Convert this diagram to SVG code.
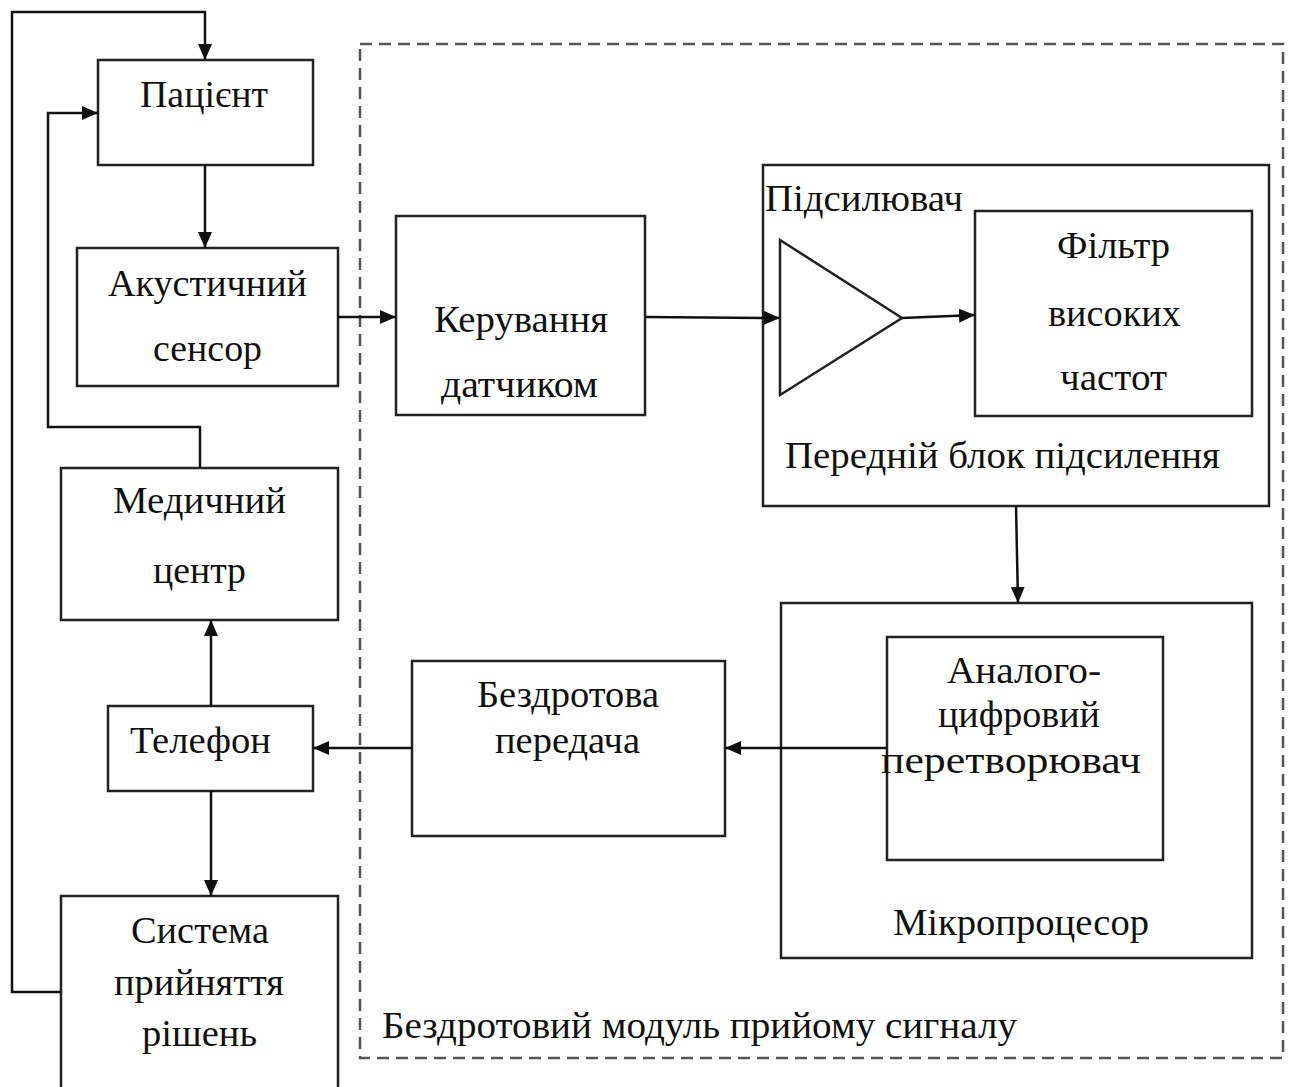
<svg xmlns="http://www.w3.org/2000/svg" width="1292" height="1087" viewBox="0 0 1292 1087">
<style>
.box{fill:none;stroke:#222;stroke-width:2.5}
.ln{fill:none;stroke:#111;stroke-width:2.5}
.dash{fill:none;stroke:#555;stroke-width:2.5;stroke-dasharray:12 7}
text{font-family:"Liberation Serif","Times New Roman",serif;font-size:38px;fill:#111}
</style>
<defs>
<marker id="ah" markerUnits="userSpaceOnUse" markerWidth="18" markerHeight="14" refX="16" refY="7" orient="auto">
<path d="M0,0 L16,7 L0,14 Z" fill="#111"/>
</marker>
</defs>
<rect width="1292" height="1087" fill="#fff"/>
<g id="module">
<rect class="dash" x="360" y="44" width="923" height="1014"/>
<text x="382" y="1038" textLength="635" lengthAdjust="spacingAndGlyphs">Бездротовий модуль прийому сигналу</text>
</g>
<g id="patient">
<rect class="box" x="98" y="60" width="215" height="105"/>
<text x="140" y="107" textLength="128" lengthAdjust="spacingAndGlyphs">Пацієнт</text>
</g>
<g id="sensor">
<rect class="box" x="77" y="248" width="261" height="138"/>
<text x="108" y="296" textLength="199" lengthAdjust="spacingAndGlyphs">Акустичний</text>
<text x="153" y="361" textLength="109" lengthAdjust="spacingAndGlyphs">сенсор</text>
</g>
<g id="control">
<rect class="box" x="396" y="216" width="249" height="199"/>
<text x="434" y="332" textLength="174" lengthAdjust="spacingAndGlyphs">Керування</text>
<text x="441" y="397" textLength="157" lengthAdjust="spacingAndGlyphs">датчиком</text>
</g>
<g id="frontend">
<rect class="box" x="763" y="165" width="506" height="341"/>
<text x="765" y="211" textLength="198" lengthAdjust="spacingAndGlyphs">Підсилювач</text>
<text x="785" y="468" textLength="435" lengthAdjust="spacingAndGlyphs">Передній блок підсилення</text>
</g>
<g id="amplifier">
<polygon class="box" points="780,240 780,395 902,318"/>
</g>
<g id="filter">
<rect class="box" x="975" y="211" width="277" height="205"/>
<text x="1057" y="258" textLength="113" lengthAdjust="spacingAndGlyphs">Фільтр</text>
<text x="1048" y="326" textLength="133" lengthAdjust="spacingAndGlyphs">високих</text>
<text x="1060" y="390" textLength="107" lengthAdjust="spacingAndGlyphs">частот</text>
</g>
<g id="microprocessor">
<rect class="box" x="781" y="603" width="471" height="355"/>
<text x="893" y="935" textLength="256" lengthAdjust="spacingAndGlyphs">Мікропроцесор</text>
</g>
<g id="adc">
<rect class="box" x="887" y="637" width="276" height="223"/>
<text x="947" y="683" textLength="154" lengthAdjust="spacingAndGlyphs">Аналого-</text>
<text x="1019" y="727" text-anchor="middle">цифровий</text>
<text x="881" y="773" textLength="260" lengthAdjust="spacingAndGlyphs">перетворювач</text>
</g>
<g id="wireless">
<rect class="box" x="412" y="661" width="313" height="175"/>
<text x="477" y="707" textLength="182" lengthAdjust="spacingAndGlyphs">Бездротова</text>
<text x="495" y="753" textLength="145" lengthAdjust="spacingAndGlyphs">передача</text>
</g>
<g id="phone">
<rect class="box" x="108" y="706" width="205" height="85"/>
<text x="130" y="753" textLength="141" lengthAdjust="spacingAndGlyphs">Телефон</text>
</g>
<g id="medcenter">
<rect class="box" x="61" y="468" width="277" height="152"/>
<text x="113" y="513" textLength="173" lengthAdjust="spacingAndGlyphs">Медичний</text>
<text x="153" y="583" textLength="93" lengthAdjust="spacingAndGlyphs">центр</text>
</g>
<g id="decision">
<rect class="box" x="61" y="896" width="277" height="200"/>
<text x="131" y="943" textLength="138" lengthAdjust="spacingAndGlyphs">Система</text>
<text x="114" y="995" textLength="170" lengthAdjust="spacingAndGlyphs">прийняття</text>
<text x="142" y="1046" textLength="115" lengthAdjust="spacingAndGlyphs">рішень</text>
</g>
<g id="connectors">
<path class="ln" d="M205,165 L205,248" marker-end="url(#ah)"/>
<path class="ln" d="M338,317 L396,317" marker-end="url(#ah)"/>
<path class="ln" d="M645,317 L780,318" marker-end="url(#ah)"/>
<path class="ln" d="M902,318 L975,315" marker-end="url(#ah)"/>
<path class="ln" d="M1016,506 L1018,603" marker-end="url(#ah)"/>
<path class="ln" d="M887,748 L725,748" marker-end="url(#ah)"/>
<path class="ln" d="M412,748 L313,748" marker-end="url(#ah)"/>
<path class="ln" d="M211,706 L211,620" marker-end="url(#ah)"/>
<path class="ln" d="M211,791 L211,896" marker-end="url(#ah)"/>
<path class="ln" d="M200,468 L200,427 L48,427 L48,113 L98,113" marker-end="url(#ah)"/>
<path class="ln" d="M61,992 L12,992 L12,12 L205,12 L205,60" marker-end="url(#ah)"/>
</g>
</svg>
